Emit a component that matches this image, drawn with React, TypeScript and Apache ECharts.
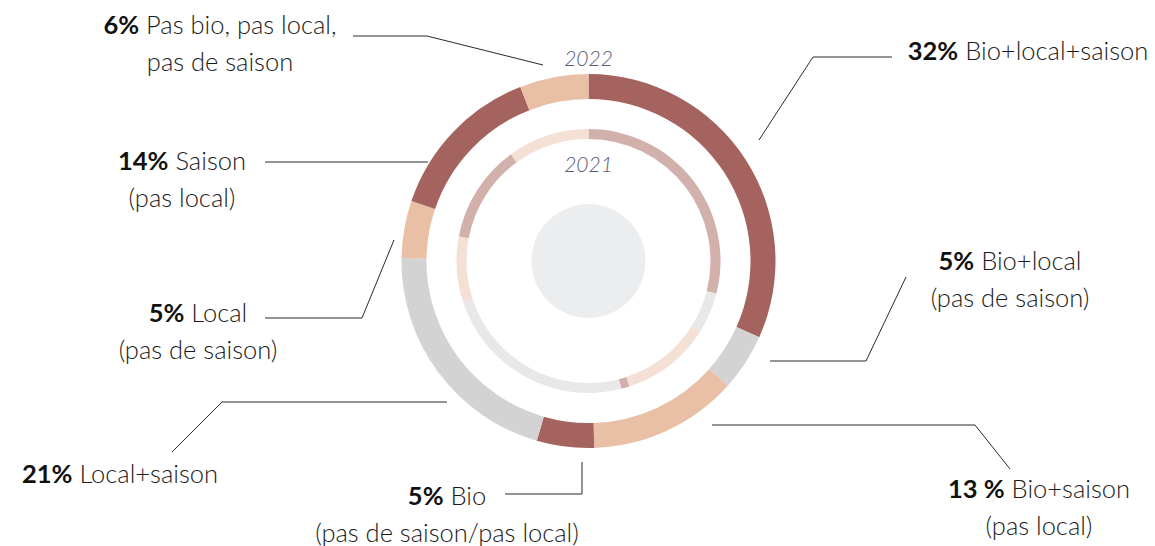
import React, { useEffect, useRef } from "react";
import * as echarts from "echarts";

const categories = [
  "Bio+local+saison",
  "Bio+local (pas de saison)",
  "Bio+saison (pas local)",
  "Bio (pas de saison/pas local)",
  "Local+saison",
  "Local (pas de saison)",
  "Saison (pas local)",
  "Pas bio, pas local, pas de saison",
];
const values2022 = [32, 5, 13, 5, 21, 5, 14, 6];
const values2021 = [29, 5, 11, 1, 24, 8, 12, 10];
const colors2022 = ["#a4635e", "#d3d3d3", "#e9c0a6", "#a4635e", "#d3d3d3", "#e9c0a6", "#a4635e", "#e9c0a6"];
const colors2021 = ["#d2b0ab", "#e8e8e8", "#f4e0d4", "#d2b0ab", "#e8e8e8", "#f4e0d4", "#d2b0ab", "#f4e0d4"];
const pctLabels = ["32%", "5%", "13 %", "5%", "21%", "5%", "14%", "6%"];
const labelLines = [
  ["Bio+local+saison"],
  ["Bio+local", "(pas de saison)"],
  ["Bio+saison", "(pas local)"],
  ["Bio", "(pas de saison/pas local)"],
  ["Local+saison"],
  ["Local", "(pas de saison)"],
  ["Saison", "(pas local)"],
  ["Pas bio, pas local,", "pas de saison"],
];
const yearLabels = ["2022", "2021"];

// label layout (centre x, first line centre y) and leader lines
const labelPos: [number, number][] = [
  [1028, 50],
  [1010, 260],
  [1039, 488],
  [447, 495],
  [120, 473],
  [198, 312],
  [182, 160],
  [220, 24],
];
const leaderPts: [number, number][][] = [
  [[892, 57], [813, 57], [759, 140]],
  [[906, 277], [866, 361], [770, 361]],
  [[1010, 469], [975, 425], [712, 425]],
  [[505, 494], [582, 494], [582, 462]],
  [[172, 452], [222, 402], [447, 402]],
  [[265, 318], [362, 318], [394, 240]],
  [[265, 162], [428, 162]],
  [[353, 36], [427, 36], [543, 65]],
];

const FONT = "Lato, 'Noto Sans', sans-serif";
const LH = 37;
const FS = 25.5;
const CX = 588.5;
const CY = 261;

export default function App() {
  const ref = useRef<HTMLDivElement>(null);
  useEffect(() => {
    document.body.style.margin = "0";
    const chart = echarts.init(ref.current!, null, { renderer: "svg" });
    const graphics: any[] = [];
    categories.forEach((_, i) => {
      const [x, y] = labelPos[i];
      const lines = labelLines[i];
      const text =
        "{b|" + pctLabels[i] + "}{n| " + lines[0] + "}" +
        (lines[1] ? "\n{n|" + lines[1] + "}" : "");
      graphics.push({
        type: "text",
        x,
        y: y - LH / 2,
        style: {
          text,
          align: "center",
          verticalAlign: "top",
          fontFamily: FONT,
          fontSize: FS,
          rich: {
            b: { fontFamily: FONT, fontWeight: 700, fontSize: FS, fill: "#111", lineHeight: LH },
            n: { fontFamily: FONT, fontWeight: 300, fontSize: FS, fill: "#1a1a1a", lineHeight: LH },
          },
        },
      });
      graphics.push({
        type: "polyline",
        shape: { points: leaderPts[i] },
        style: { stroke: "#2a2a2a", lineWidth: 1, fill: "none" },
        silent: true,
      });
    });
    [57, 163].forEach((yy, k) => {
      graphics.push({
        type: "text",
        x: CX,
        y: yy,
        style: {
          text: yearLabels[k],
          align: "center",
          verticalAlign: "middle",
          fontFamily: FONT,
          fontStyle: "italic",
          fontWeight: 300,
          fontSize: 21,
          fill: "#585c70",
        },
      });
    });

    chart.setOption({
      animation: false,
      series: [
        {
          type: "pie",
          name: "2022",
          center: [CX, CY],
          radius: [162, 187],
          startAngle: 90,
          clockwise: true,
          silent: true,
          label: { show: false },
          labelLine: { show: false },
          data: categories.map((c, i) => ({
            name: c,
            value: values2022[i],
            itemStyle: { color: colors2022[i], borderWidth: 0 },
          })),
        },
        {
          type: "pie",
          name: "2021",
          center: [CX, CY],
          radius: [122, 132],
          startAngle: 90,
          clockwise: true,
          silent: true,
          label: { show: false },
          labelLine: { show: false },
          data: categories.map((c, i) => ({
            name: c,
            value: values2021[i],
            itemStyle: { color: colors2021[i], borderWidth: 0 },
          })),
        },
        {
          type: "pie",
          name: "centre",
          center: [CX, CY],
          radius: [0, 57],
          silent: true,
          label: { show: false },
          labelLine: { show: false },
          data: [{ name: "", value: 1, itemStyle: { color: "#ecedef" } }],
        },
      ],
      graphic: graphics,
    });
    return () => chart.dispose();
  }, []);
  return <div ref={ref} style={{ width: 1155, height: 546 }} />;
}
